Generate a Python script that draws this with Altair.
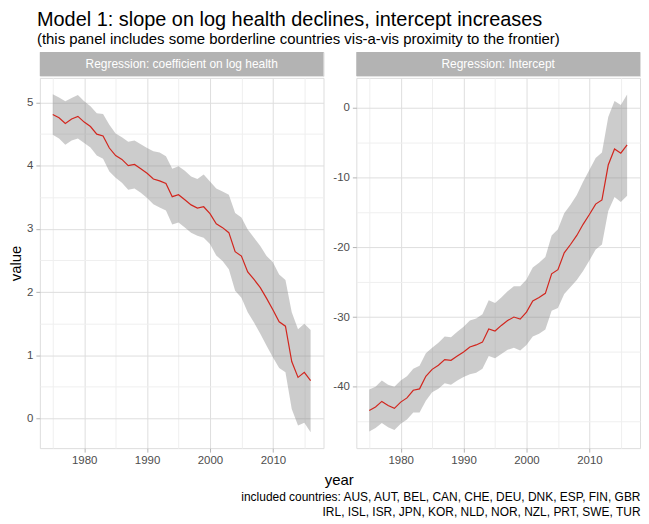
import altair as alt
import pandas as pd

years = list(range(1975, 2017))

slope_est = [4.81, 4.76, 4.67, 4.74, 4.78, 4.69, 4.62, 4.50, 4.47, 4.28,
             4.16, 4.10, 4.00, 4.02, 3.95, 3.88, 3.79, 3.76, 3.72, 3.51,
             3.54, 3.46, 3.38, 3.33, 3.35, 3.24, 3.08, 3.02, 2.94, 2.64,
             2.57, 2.32, 2.20, 2.07, 1.90, 1.72, 1.53, 1.46, 0.90, 0.65,
             0.73, 0.60]
slope_hi = [5.13, 5.08, 5.02, 5.07, 5.12, 5.02, 4.94, 4.83, 4.82, 4.65,
            4.51, 4.45, 4.38, 4.40, 4.34, 4.28, 4.23, 4.21, 4.15, 3.95,
            3.99, 3.92, 3.83, 3.79, 3.86, 3.75, 3.64, 3.59, 3.54, 3.25,
            3.18, 2.99, 2.86, 2.73, 2.57, 2.47, 2.28, 2.19, 1.68, 1.41,
            1.50, 1.40]
slope_lo = [4.49, 4.43, 4.33, 4.40, 4.43, 4.36, 4.29, 4.16, 4.11, 3.91,
            3.81, 3.73, 3.62, 3.64, 3.57, 3.49, 3.39, 3.34, 3.29, 3.07,
            3.10, 3.02, 2.94, 2.89, 2.86, 2.76, 2.58, 2.49, 2.36, 2.02,
            1.91, 1.68, 1.52, 1.34, 1.15, 0.97, 0.80, 0.73, 0.15, -0.11,
            -0.07, -0.22]

int_est = [-43.4, -42.9, -42.1, -42.7, -43.1, -42.2, -41.6, -40.5, -40.3, -38.5,
           -37.5, -36.9, -36.1, -36.2, -35.6, -35.0, -34.3, -34.0, -33.6, -31.7,
           -32.0, -31.2, -30.5, -30.0, -30.3, -29.3, -27.7, -27.2, -26.6, -23.8,
           -23.2, -20.8, -19.6, -18.3, -16.7, -15.3, -13.8, -13.2, -8.2, -5.9,
           -6.5, -5.3]
int_hi = [-40.4, -40.0, -39.1, -39.7, -40.0, -39.1, -38.5, -37.4, -37.0, -35.2,
          -34.4, -33.7, -32.8, -32.9, -32.1, -31.4, -30.5, -30.2, -29.6, -27.6,
          -28.0, -27.2, -26.3, -25.6, -25.6, -24.6, -22.9, -22.2, -21.4, -18.3,
          -17.4, -15.1, -13.9, -12.5, -10.6, -8.9, -7.2, -6.4, -1.3, 1.0,
          0.4, 1.9]
int_lo = [-46.4, -45.9, -45.2, -45.8, -46.2, -45.3, -44.7, -43.7, -43.7, -42.0,
          -40.8, -40.3, -39.5, -39.7, -39.1, -38.6, -38.2, -38.0, -37.4, -35.6,
          -35.9, -35.3, -34.7, -34.4, -34.8, -34.0, -32.8, -32.4, -31.8, -29.1,
          -28.7, -26.7, -25.7, -24.7, -23.4, -21.9, -20.3, -19.6, -14.8, -12.8,
          -13.5, -12.6]

strip_labels = ["Regression: coefficient on log health", "Regression: Intercept"]
x_ticks = [1975, 1980, 1985, 1990, 1995, 2000, 2005, 2010, 2015]
slope_ticks = [0, 0.5, 1, 1.5, 2, 2.5, 3, 3.5, 4, 4.5, 5]
int_ticks = [-45, -40, -35, -30, -25, -20, -15, -10, -5, 0]

title_text = "Model 1: slope on log health declines, intercept increases"
subtitle_text = "(this panel includes some borderline countries vis-a-vis proximity to the  frontier)"
caption_lines = ["included countries: AUS, AUT, BEL, CAN, CHE, DEU, DNK, ESP, FIN, GBR",
                 "IRL, ISL, ISR, JPN, KOR, NLD, NOR, NZL, PRT, SWE, TUR"]

FONT = "Liberation Sans"
RED = "#D2261E"
W = 285
H = 372
SH = 24
MAJOR = "#DEDEDE"
MINOR = "#EFEFEF"
LABEL_SIZE = 11.5


def panel(est, lo, hi, ydomain, yticks, ymajor, ytitle):
    df = pd.DataFrame({"year": years, "est": est, "lo": lo, "hi": hi})
    xaxis = alt.Axis(
        values=x_ticks, title=None,
        labelExpr="datum.value % 10 === 0 ? toString(datum.value) : ''",
        gridColor={"condition": {"test": "datum.value % 10 === 0", "value": MAJOR}, "value": MINOR},
        tickOpacity={"condition": {"test": "datum.value % 10 === 0", "value": 1}, "value": 0},
        domain=False, tickColor="#B3B3B3", tickSize=4, labelPadding=2,
        labelColor="#4D4D4D", labelFontSize=LABEL_SIZE, labelFont=FONT,
    )
    yaxis_kw = dict(
        values=yticks,
        labelExpr=f"datum.value % {ymajor} === 0 ? toString(datum.value) : ''",
        gridColor={"condition": {"test": f"datum.value % {ymajor} === 0", "value": MAJOR}, "value": MINOR},
        tickOpacity={"condition": {"test": f"datum.value % {ymajor} === 0", "value": 1}, "value": 0},
        domain=False, tickColor="#B3B3B3", tickSize=4, labelPadding=3,
        labelColor="#4D4D4D", labelFontSize=LABEL_SIZE, labelFont=FONT,
    )
    if ytitle:
        yaxis_kw.update(title=ytitle, titleFont=FONT, titleFontSize=15,
                        titleFontWeight="normal", titleColor="black", titlePadding=3)
    else:
        yaxis_kw.update(title=None)
    yaxis = alt.Axis(**yaxis_kw)
    xs = alt.Scale(domain=[1972.95, 2018.05], nice=False, zero=False)
    ys = alt.Scale(domain=ydomain, nice=False, zero=False)
    base = alt.Chart(df)
    band = base.mark_area(color="#7F7F7F", opacity=0.4).encode(
        x=alt.X("year:Q", scale=xs, axis=xaxis),
        y=alt.Y("lo:Q", scale=ys, axis=yaxis),
        y2="hi:Q",
    )
    line = base.mark_line(color=RED, strokeWidth=1.2).encode(
        x=alt.X("year:Q", scale=xs, axis=xaxis),
        y=alt.Y("est:Q", scale=ys, axis=yaxis),
    )
    return alt.layer(band, line).properties(width=W, height=H)


def strip(label):
    d = pd.DataFrame({"label": [label]})
    rect = alt.Chart(d).mark_rect(color="#B3B3B3").encode(
        x=alt.value(0), x2=alt.value(W), y=alt.value(0), y2=alt.value(SH))
    txt = alt.Chart(d).mark_text(color="white", fontSize=12, font=FONT).encode(
        x=alt.value(W / 2), y=alt.value(SH / 2), text="label:N")
    return alt.layer(rect, txt).properties(width=W, height=SH)


left = alt.vconcat(strip(strip_labels[0]),
                   panel(slope_est, slope_lo, slope_hi, [-0.47, 5.39], slope_ticks, 1, "value"),
                   spacing=0)
right = alt.vconcat(strip(strip_labels[1]),
                    panel(int_est, int_lo, int_hi, [-48.8, 4.3], int_ticks, 10, None),
                    spacing=0)

panels = alt.hconcat(left, right, spacing=7).properties(
    title=alt.Title("year", orient="bottom", anchor="middle", fontSize=15, font=FONT,
                    fontWeight="normal", color="black", offset=7, dx=15)
)
mid = alt.vconcat(panels).properties(
    title=alt.Title(caption_lines, orient="bottom", anchor="end", fontSize=12, font=FONT,
                    fontWeight="normal", color="black", lineHeight=15, offset=4)
)
chart = alt.vconcat(mid).properties(
    title=alt.Title(title_text, subtitle=subtitle_text, anchor="start", fontSize=20,
                    subtitleFontSize=15, font=FONT, subtitleFont=FONT, fontWeight="normal",
                    color="black", subtitleColor="black", subtitlePadding=2, offset=5,
                    dx=29),
    padding={"left": 0, "top": 0, "right": 0, "bottom": 0},
).configure_view(stroke="#B3B3B3", strokeWidth=1).configure(background="white")

chart.save("out.html", embed_options={"renderer": "svg", "actions": False})
